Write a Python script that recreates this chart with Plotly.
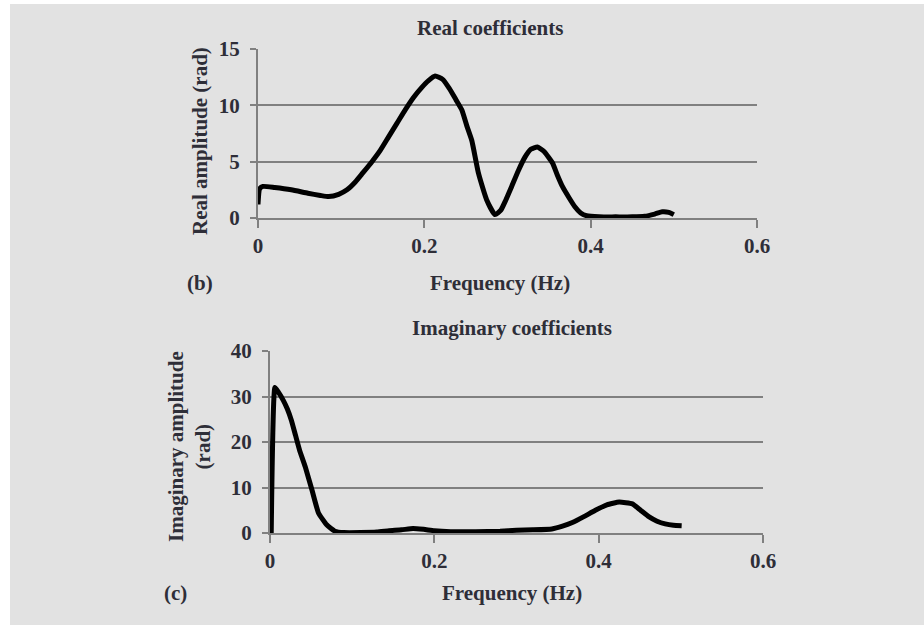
import plotly.graph_objects as go

W, H = 924, 625

# ---------------- data ----------------
real_freq = [0.000, 0.002, 0.006, 0.020, 0.040, 0.060, 0.075, 0.085, 0.097, 0.107,
             0.117, 0.126, 0.137, 0.147, 0.157, 0.167, 0.177, 0.187, 0.197, 0.205,
             0.213, 0.222, 0.230, 0.238, 0.245, 0.251, 0.257, 0.265, 0.275, 0.285,
             0.292, 0.298, 0.305, 0.313, 0.321, 0.328, 0.336, 0.344, 0.354, 0.360,
             0.366, 0.374, 0.381, 0.388, 0.395, 0.410, 0.430, 0.450, 0.465, 0.477,
             0.486, 0.494, 0.500]
real_amp = [1.2, 2.6, 2.8, 2.7, 2.5, 2.2, 2.0, 1.9, 2.1, 2.5,
            3.2, 4.0, 5.0, 6.0, 7.2, 8.4, 9.6, 10.7, 11.6, 12.2,
            12.6, 12.3, 11.5, 10.5, 9.6, 8.2, 6.9, 4.0, 1.6, 0.3,
            0.7, 1.6, 2.8, 4.2, 5.4, 6.1, 6.3, 5.9, 4.9, 3.8,
            2.8, 1.8, 1.0, 0.45, 0.2, 0.1, 0.1, 0.1, 0.15, 0.35,
            0.55, 0.5, 0.3]

imag_freq = [0.0015, 0.006, 0.010, 0.016, 0.021, 0.026, 0.031, 0.036, 0.043, 0.051,
             0.059, 0.069, 0.079, 0.090, 0.110, 0.130, 0.145, 0.160, 0.174, 0.187,
             0.200, 0.220, 0.250, 0.280, 0.300, 0.320, 0.343, 0.356, 0.368, 0.382,
             0.396, 0.410, 0.425, 0.441, 0.451, 0.461, 0.471, 0.481, 0.491, 0.501]
imag_amp = [0.0, 32.0, 31.0, 29.2, 27.3, 24.8, 21.5, 18.2, 14.5, 9.5,
            4.4, 1.8, 0.4, 0.1, 0.1, 0.2, 0.5, 0.7, 1.0, 0.8,
            0.5, 0.3, 0.3, 0.4, 0.6, 0.7, 0.9, 1.5, 2.3, 3.6,
            5.0, 6.2, 6.8, 6.4, 5.0, 3.6, 2.6, 2.0, 1.7, 1.6]

x_ticks = [0, 0.2, 0.4, 0.6]
x_tick_labels = ["0", "0.2", "0.4", "0.6"]
real_y_ticks = [0, 5, 10, 15]
imag_y_ticks = [0, 10, 20, 30, 40]

title_real = "Real coefficients"
title_imag = "Imaginary coefficients"
x_title = "Frequency (Hz)"
y_title_real = "Real amplitude (rad)"
y_title_imag = "Imaginary amplitude<br>(rad)"

# ---------------- helpers ----------------
def px(x):
    return x / W

def py(y):
    return 1 - y / H

FONT = dict(family="Liberation Serif", size=21, color="#2e2e38", weight="bold")
GRID = "#808080"

fig = go.Figure()
fig.add_trace(go.Scatter(x=real_freq, y=real_amp, mode="lines",
                         line=dict(color="black", width=5, shape="spline", smoothing=0.5),
                         xaxis="x", yaxis="y", showlegend=False))
fig.add_trace(go.Scatter(x=imag_freq, y=imag_amp, mode="lines",
                         line=dict(color="black", width=5, shape="spline", smoothing=0.4),
                         xaxis="x2", yaxis="y2", showlegend=False))

def xaxis(domain, anchor):
    return dict(domain=domain, anchor=anchor, range=[0, 0.6], tickvals=x_ticks,
                ticktext=x_tick_labels, showgrid=False, zeroline=False,
                showline=True, linecolor=GRID, linewidth=2, automargin=False,
                ticks="outside", ticklen=8, tickwidth=2, tickcolor=GRID,
                tickfont=FONT, ticklabelstandoff=0, fixedrange=True)

def yaxis(domain, anchor, rng, ticks):
    return dict(domain=domain, anchor=anchor, range=rng, tickvals=ticks,
                showgrid=True, gridcolor=GRID, gridwidth=2, zeroline=False,
                showline=True, linecolor=GRID, linewidth=2, automargin=False,
                ticks="outside", ticklen=6, tickwidth=2, tickcolor=GRID,
                tickfont=FONT, ticklabelstandoff=6, fixedrange=True)

fig.update_layout(
    width=W, height=H,
    margin=dict(l=0, r=0, t=0, b=0, pad=0, autoexpand=False),
    paper_bgcolor="white",
    plot_bgcolor="rgba(0,0,0,0)",
    xaxis=xaxis([px(258), px(757)], "y"),
    yaxis=yaxis([py(218), py(49)], "x", [0, 15], real_y_ticks),
    xaxis2=xaxis([px(270), px(763)], "y2"),
    yaxis2=yaxis([py(533), py(351)], "x2", [0, 40], imag_y_ticks),
    shapes=[dict(type="rect", xref="paper", yref="paper", layer="below",
                 x0=px(10), x1=1.0, y0=0.0, y1=py(4),
                 fillcolor="#e2e2e2", line=dict(width=0))],
)

def ann(text, x, y, angle=0):
    fig.add_annotation(text=text, x=px(x), y=py(y), xref="paper", yref="paper",
                       showarrow=False, font=FONT, textangle=angle,
                       xanchor="center", yanchor="middle")

ann(title_real, 490, 28)
ann(x_title, 500, 283)
ann("(b)", 200, 283)
ann(y_title_real, 200, 141, -90)

ann(title_imag, 512, 328)
ann(x_title, 512, 593)
ann("(c)", 175, 593)
ann(y_title_imag, 190, 447, -90)

fig.write_html("out.html")
